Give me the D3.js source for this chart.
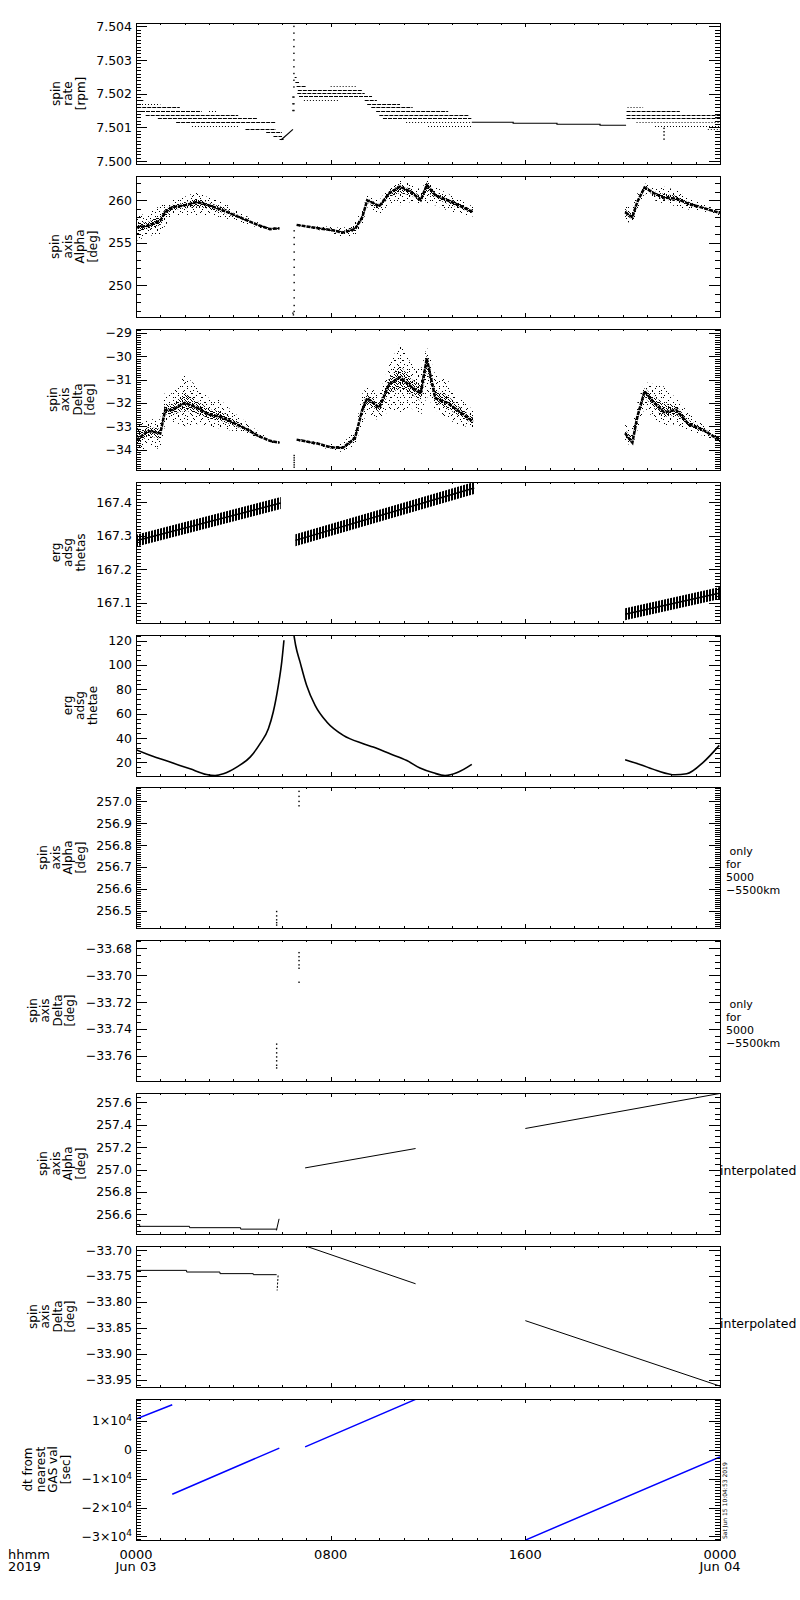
<!DOCTYPE html>
<html>
<head>
<meta charset="utf-8">
<script src="https://cdn.jsdelivr.net/npm/d3@7/dist/d3.min.js"></script>
<style>
  body { margin: 0; background: #fff; }
  svg text { font-family: "DejaVu Sans", sans-serif; fill: #000; }
  .axis line { stroke: #000; shape-rendering: crispEdges; }
  .pre { white-space: pre; }
</style>
</head>
<body>
<svg id="chart" width="800" height="1600"></svg>
<script>
// ---- time axis (hours from 2019-06-03 00:00) ----
const majorHours = [0, 8, 16, 24];
const majorHourLabels = [["0000", "Jun 03"], ["0800"], ["1600"], ["0000", "Jun 04"]];
const minorHours = d3.range(0, 25);

// ---- panel 1: spin rate [rpm], quantised rows of points ----
const rateTicks = [7.500, 7.501, 7.502, 7.503, 7.504];
const rateLevel = [7.50182, 7.50170, 7.50160, 7.50149, 7.50149, 7.50137, 7.50127, 7.50115, 7.50105, 7.50096, 7.50085, 7.50073, 7.50065,
  7.50251, 7.50236, 7.50223, 7.50223, 7.50211, 7.50202, 7.50192, 7.50182, 7.50182, 7.50170, 7.50160, 7.50149, 7.50137, 7.50127, 7.50115, 7.50105,
  7.50160, 7.50149, 7.50137, 7.50127, 7.50115, 7.50105, 7.50096];
const rateFrom = [0.0, 0.0, 0.05, 0.0, 3.0, 0.4, 0.9, 1.65, 2.3, 4.5, 5.35, 5.65, 5.9,
  6.52, 6.55, 6.6, 8.0, 6.65, 6.63, 6.7, 6.9, 9.4, 9.5, 9.67, 9.87, 10.0, 10.15, 11.1, 12.0,
  20.2, 20.16, 20.16, 20.16, 20.57, 21.33, 23.5];
const rateTo = [0.3, 1.0, 1.8, 2.7, 3.3, 4.2, 5.0, 5.75, 4.25, 5.75, 6.0, 6.0, 6.1,
  6.6, 6.7, 7.0, 9.1, 9.3, 9.4, 9.7, 8.3, 9.9, 10.85, 11.37, 12.83, 13.7, 13.78, 13.78, 13.78,
  20.84, 22.35, 24, 24, 24, 24, 24];
const rateDensity = ["dense", "sparse", "dense", "dense", "sparse", "dense", "dense", "dense", "sparse", "dense", "dense", "dense", "dense",
  "dense", "dense", "dense", "sparse", "dense", "dense", "dense", "sparse", "dense", "dense", "dense", "dense", "dense", "dense", "sparse", "sparse",
  "sparse", "dense", "dense", "dense", "sparse", "sparse", "sparse"];
const rateStepT = [13.8, 15.5, 17.3, 19.07, 20.14];
const rateStepV = [7.501151, 7.501122, 7.501092, 7.501062, 7.501062];
const rateRampT = [5.97, 6.45];
const rateRampV = [7.50063, 7.50094];
const rateSpikeT = [6.49, 6.49, 6.49, 6.49, 6.49, 6.49, 6.49, 6.49, 6.49, 6.49, 6.49, 6.49, 6.49, 6.45, 6.45, 6.45, 21.7, 21.7, 21.7, 21.7];
const rateSpikeV = [7.5040, 7.5038, 7.5036, 7.5034, 7.5032, 7.5030, 7.5028, 7.5026, 7.5024, 7.5022, 7.5019, 7.5017, 7.5015,
  7.5019, 7.5017, 7.5015, 7.50097, 7.50087, 7.50077, 7.50065];

// ---- panels 2 & 3: spin axis Alpha / Delta (scatter: core trace + envelope) ----
const alphaTicks = [250, 255, 260];
const cloudT = [0.0, 0.5, 1.0, 1.2, 1.5, 2.0, 2.5, 3.0, 3.5, 4.0, 4.5, 5.0, 5.5, 5.9, null,
  6.6, 7.5, 8.0, 8.5, 9.0, 9.3, 9.5, 10.0, 10.4, 10.85, 11.3, 11.7, 11.95, 12.3, 12.8, 13.2, 13.85, null,
  20.1, 20.4, 20.6, 20.9, 21.3, 21.7, 22.2, 22.7, 23.3, 24.0];
const alphaCore = [256.8, 257.0, 257.6, 258.6, 259.2, 259.4, 259.8, 259.4, 258.9, 258.3, 257.7, 257.1, 256.6, 256.7, null,
  257.1, 256.7, 256.5, 256.2, 256.6, 258.0, 260.0, 259.3, 260.8, 261.6, 261.0, 260.0, 261.8, 260.6, 260.0, 259.5, 258.6, null,
  258.6, 258.0, 259.8, 261.5, 260.8, 260.3, 260.2, 259.6, 259.1, 258.5];
const alphaLo = [255.2, 255.8, 256.0, 257.0, 258.2, 258.3, 258.2, 258.2, 258.0, 257.6, 257.2, 256.8, 256.5, 256.6, null,
  257.0, 256.5, 256.1, 255.6, 255.9, 257.0, 259.2, 258.2, 259.6, 259.4, 259.8, 259.4, 259.6, 259.4, 258.8, 258.5, 258.1, null,
  257.5, 257.3, 258.6, 260.8, 260.0, 259.6, 259.3, 258.9, 258.7, 258.2];
const alphaHi = [258.2, 258.4, 259.4, 259.6, 260.0, 260.4, 261.0, 260.3, 259.9, 259.0, 258.2, 257.4, 256.8, 256.8, null,
  257.2, 256.9, 256.9, 256.7, 257.5, 258.9, 260.6, 260.0, 261.6, 262.3, 262.0, 261.2, 262.4, 261.6, 260.8, 260.3, 259.2, null,
  259.4, 259.2, 260.8, 262.0, 261.5, 261.6, 261.2, 260.3, 259.5, 258.8];
const alphaSpikeT = [6.5, 6.5, 6.5, 6.5, 6.5, 6.5, 6.5, 6.5, 6.5, 6.5, 6.5, 6.5, 6.45, 6.47];
const alphaSpikeV = [256.4, 255.6, 254.8, 253.9, 253.0, 252.1, 251.2, 250.3, 249.4, 248.5, 247.6, 246.9, 246.7, 246.5];

const deltaTicks = [-34, -33, -32, -31, -30, -29];
const deltaCore = [-33.6, -33.2, -33.3, -32.3, -32.3, -32.0, -32.2, -32.5, -32.6, -32.85, -33.1, -33.4, -33.62, -33.7, null,
  -33.57, -33.75, -33.9, -33.92, -33.5, -32.3, -31.8, -32.2, -31.2, -30.9, -31.3, -31.6, -30.1, -31.8, -32.0, -32.3, -32.8, null,
  -33.3, -33.7, -32.6, -31.5, -32.0, -32.4, -32.3, -32.9, -33.15, -33.6];
const deltaLo = [-34.3, -33.8, -34.0, -32.9, -32.8, -33.0, -32.9, -33.0, -33.1, -33.2, -33.3, -33.5, -33.7, -33.75, null,
  -33.62, -33.82, -34.05, -34.1, -33.8, -32.9, -32.4, -32.8, -32.3, -32.4, -32.2, -32.6, -31.7, -32.3, -32.7, -32.9, -33.1, null,
  -33.7, -33.85, -33.2, -32.2, -32.7, -33.0, -32.9, -33.2, -33.4, -33.75];
const deltaHi = [-32.9, -32.7, -32.7, -31.5, -31.6, -30.8, -31.3, -31.8, -31.9, -32.4, -32.8, -33.2, -33.55, -33.65, null,
  -33.52, -33.68, -33.75, -33.7, -33.2, -31.6, -31.3, -31.6, -30.4, -29.4, -30.3, -30.6, -29.6, -30.8, -31.0, -31.7, -32.3, null,
  -32.9, -33.0, -32.0, -31.1, -31.2, -31.3, -31.8, -32.4, -32.9, -33.45];
const deltaSpikeT = [6.5, 6.5, 6.5, 6.5, 6.5, 6.5];
const deltaSpikeV = [-34.25, -34.35, -34.45, -34.55, -34.65, -34.75];

// ---- panel 4: erg adsg thetas ----
const thetasTicks = [167.1, 167.2, 167.3, 167.4];
const thetasT = [0, 5.95, null, 6.55, 13.9, null, 20.1, 24.0];
const thetasV = [167.285, 167.397, null, 167.286, 167.442, null, 167.066, 167.129];

// ---- panel 5: erg adsg thetae ----
const thetaeTicks = [20, 40, 60, 80, 100, 120];
const thetaeT = [0, 0.575, 1.4, 2.22, 2.9, 3.25, 3.59, 4.14, 4.69, 5.1, 5.44, 5.64, 5.85, 5.99, 6.08, null,
  6.49, 6.56, 6.74, 7.01, 7.36, 7.84, 8.52, 9.34, 9.75, 10.44, 11.13, 11.67, 12.22, 12.7, 13.18, 13.8, null,
  20.1, 20.71, 21.4, 22.15, 22.63, 23.32, 23.97];
const thetaeV = [30.5, 26.0, 20.3, 14.8, 10.1, 9.3, 10.7, 16.2, 24.4, 35.4, 47.7, 61.4, 83.3, 102.5, 120.2, null,
  124.4, 116.1, 102.5, 83.3, 66.8, 53.2, 42.2, 35.4, 32.6, 27.1, 21.6, 15.4, 11.5, 9.3, 11.5, 18.4, null,
  22.2, 18.4, 13.4, 9.9, 10.7, 20.3, 34.0];

// ---- panels 6 & 7: only for 5000-5500km ----
const onlyAlphaTicks = [256.5, 256.6, 256.7, 256.8, 256.9, 257.0];
const onlyAlphaT = [5.78, 5.78, 5.78, 5.78, 5.78, 6.7, 6.7, 6.7, 6.7];
const onlyAlphaV = [256.496, 256.476, 256.458, 256.445, 256.434, 257.046, 257.023, 257.0, 256.98];
const onlyDeltaTicks = [-33.76, -33.74, -33.72, -33.70, -33.68];
const onlyDeltaT = [5.78, 5.78, 5.78, 5.78, 5.78, 5.78, 5.78, 6.7, 6.7, 6.7, 6.7, 6.7, 6.7];
const onlyDeltaV = [-33.7513, -33.7545, -33.7578, -33.7608, -33.7637, -33.767, -33.769,
  -33.6833, -33.6863, -33.6892, -33.6924, -33.6949, -33.7053];

// ---- panels 8 & 9: interpolated ----
const intAlphaTicks = [256.6, 256.8, 257.0, 257.2, 257.4, 257.6];
const intAlphaStepT = [0, 0.15, 2.2, 4.3, 5.8];
const intAlphaStepV = [256.51, 256.493, 256.481, 256.468, 256.468];
const intAlphaT = [5.77, 5.88, null, 6.95, 11.49, null, 16, 24];
const intAlphaV = [256.456, 256.56, null, 257.015, 257.188, null, 257.367, 257.68];
const intDeltaTicks = [-33.95, -33.90, -33.85, -33.80, -33.75, -33.70];
const intDeltaStepT = [0, 2.08, 3.45, 4.82, 5.78];
const intDeltaStepV = [-33.7392, -33.7424, -33.7455, -33.7475, -33.7475];
const intDeltaJumpT = [5.84, 5.80];
const intDeltaJumpV = [-33.749, -33.778];
const intDeltaT = [6.95, 11.49, null, 16, 24];
const intDeltaV = [-33.692, -33.765, null, -33.836, -33.962];

// ---- panel 10: dt from nearest GAS val [sec] ----
const dtTicks = [-30000, -20000, -10000, 0, 10000];
const dtT = [0, 1.49, null, 1.49, 5.89, null, 6.95, 11.49, null, 16, 24];
const dtV = [10500, 15470, null, -15430, 480, null, 930, 17300, null, -31250, -2530];

// ---------------------------------------------------------------
const svg = d3.select("#chart");
const LEFT = 136, W = 584, H = 141;
const panelTop = i => Math.round(23.3 + 152.8 * i);
const x = d3.scaleLinear().domain([0, 24]).range([0, W]);

const defs = svg.append("defs");
function pattern(id, w, h, cells, cw) {
  const p = defs.append("pattern").attr("id", id).attr("patternUnits", "userSpaceOnUse")
    .attr("width", w).attr("height", h);
  cells.forEach(c => p.append("rect").attr("x", c[0]).attr("y", c[1])
    .attr("width", cw || 1).attr("height", c[2] || 1).attr("fill", "#000"));
}
pattern("speckA", 9, 7, [[1, 1], [6, 3], [3, 5]]);
pattern("speckB", 7, 11, [[2, 2], [5, 7], [0, 9]]);
pattern("speckC", 6, 5, [[0, 0], [3, 0], [1, 1], [4, 2], [2, 2], [0, 3], [5, 3], [2, 4], [4, 4]]);
pattern("hatch", 3, 4, [[0, 0, 4]], 2);

const pts = (ts, vs) => ts.map((t, i) => ({ t, v: vs[i] }));
const ok = d => d.t != null && d.v != null;

function plotLine(g, y, ts, vs, o = {}) {
  const line = d3.line().defined(ok).x(d => x(d.t)).y(d => y(d.v)).curve(o.curve || d3.curveLinear);
  g.append("path").attr("d", line(pts(ts, vs))).attr("fill", "none")
    .attr("stroke", o.color || "#000").attr("stroke-width", o.width || 1)
    .attr("stroke-dasharray", o.dash || null);
}
function plotDots(g, y, ts, vs) {
  g.append("g").selectAll("rect").data(pts(ts, vs)).join("rect")
    .attr("x", d => x(d.t) - 0.7).attr("y", d => y(d.v) - 0.7)
    .attr("width", 1.4).attr("height", 1.4).attr("fill", "#000");
}
function plotRows(g, y) {
  const rows = rateLevel.map((v, i) => ({ v, a: rateFrom[i], b: rateTo[i], k: rateDensity[i] }));
  g.append("g").selectAll("line").data(rows).join("line")
    .attr("x1", d => x(d.a)).attr("x2", d => x(d.b))
    .attr("y1", d => Math.round(y(d.v)) + 0.5).attr("y2", d => Math.round(y(d.v)) + 0.5)
    .attr("stroke", "#000").attr("stroke-width", 1)
    .attr("stroke-dasharray", d => d.k === "dense" ? "4,1" : "1,2");
}
function plotCloud(g, y, ts, core, lo, hi) {
  const d = ts.map((t, i) => ({ t, v: core[i], lo: lo[i], hi: hi[i] }));
  const outer = d3.area().defined(ok).x(p => x(p.t)).y0(p => y(p.lo)).y1(p => y(p.hi));
  const inner = d3.area().defined(ok).x(p => x(p.t))
    .y0(p => y((p.lo + 2 * p.v) / 3)).y1(p => y((p.hi + 2 * p.v) / 3));
  g.append("path").attr("d", outer(d)).attr("fill", "url(#speckA)");
  g.append("path").attr("d", outer(d)).attr("fill", "url(#speckB)");
  g.append("path").attr("d", inner(d)).attr("fill", "url(#speckC)");
  const line = d3.line().defined(ok).x(p => x(p.t)).y(p => y(p.v));
  g.append("path").attr("d", line(d)).attr("fill", "none").attr("stroke", "#000")
    .attr("stroke-width", 2.5).attr("stroke-dasharray", "4,1");
}
function plotBand(g, y, ts, vs) {
  const area = d3.area().defined(ok).x(d => x(d.t)).y0(d => y(d.v) + 6).y1(d => y(d.v) - 6);
  g.append("path").attr("d", area(pts(ts, vs))).attr("fill", "url(#hatch)");
  plotLine(g, y, ts, vs, { width: 1.5 });
}

function dtFormat(el, d) {
  const t = d3.select(el).text("");
  if (d === 0) { t.text("0"); return; }
  t.append("tspan").text((d < 0 ? "\u2212" : "") + Math.abs(d / 1e4) + "\u00d710");
  t.append("tspan").attr("dy", "-0.5em").attr("font-size", "0.72em").text("4");
}

const onlyLines = [" only", "for", "5000", "\u22125500km"];
const panels = [
  { title: ["spin", "rate", "[rpm]"], domain: [7.499911, 7.504101], major: rateTicks, minor: 0.0001, fmt: d3.format(".3f"),
    draw: (g, y) => {
      plotRows(g, y);
      plotLine(g, y, rateStepT, rateStepV, { curve: d3.curveStepAfter, width: 1.2 });
      plotLine(g, y, rateRampT, rateRampV, { width: 1.2 });
      plotDots(g, y, rateSpikeT, rateSpikeV);
    } },
  { title: ["spin", "axis", "Alpha", "[deg]"], domain: [246.246, 262.857], major: alphaTicks, minor: 1, fmt: d3.format("d"),
    draw: (g, y) => { plotCloud(g, y, cloudT, alphaCore, alphaLo, alphaHi); plotDots(g, y, alphaSpikeT, alphaSpikeV); } },
  { title: ["spin", "axis", "Delta", "[deg]"], domain: [-34.870, -28.837], major: deltaTicks, minor: 0.1, fmt: d3.format("d"),
    draw: (g, y) => { plotCloud(g, y, cloudT, deltaCore, deltaLo, deltaHi); plotDots(g, y, deltaSpikeT, deltaSpikeV); } },
  { title: ["erg", "adsg", "thetas"], domain: [167.040, 167.4597], major: thetasTicks, minor: 0.01, fmt: d3.format(".1f"),
    draw: (g, y) => plotBand(g, y, thetasT, thetasV) },
  { title: ["erg", "adsg", "thetae"], domain: [8.91, 124.52], major: thetaeTicks, minor: 4, fmt: d3.format("d"),
    draw: (g, y) => plotLine(g, y, thetaeT, thetaeV, { curve: d3.curveMonotoneX, width: 1.6 }) },
  { title: ["spin", "axis", "Alpha", "[deg]"], domain: [256.4206, 257.066], major: onlyAlphaTicks, minor: 0.01, fmt: d3.format(".1f"),
    right: { lines: onlyLines, dx: 6, dy: 68, gap: 13, size: 11 },
    draw: (g, y) => plotDots(g, y, onlyAlphaT, onlyAlphaV) },
  { title: ["spin", "axis", "Delta", "[deg]"], domain: [-33.7787, -33.6739], major: onlyDeltaTicks, minor: 0.005, fmt: d3.format(".2f"),
    right: { lines: onlyLines, dx: 6, dy: 68, gap: 13, size: 11 },
    draw: (g, y) => plotDots(g, y, onlyDeltaT, onlyDeltaV) },
  { title: ["spin", "axis", "Alpha", "[deg]"], domain: [256.4245, 257.684], major: intAlphaTicks, minor: 0.05, fmt: d3.format(".1f"),
    right: { lines: ["interpolated"], dx: 0, dy: 82, gap: 0, size: 12.5 },
    draw: (g, y) => {
      plotLine(g, y, intAlphaStepT, intAlphaStepV, { curve: d3.curveStepAfter });
      plotLine(g, y, intAlphaT, intAlphaV);
    } },
  { title: ["spin", "axis", "Delta", "[deg]"], domain: [-33.9637, -33.6923], major: intDeltaTicks, minor: 0.01, fmt: d3.format(".2f"),
    right: { lines: ["interpolated"], dx: 0, dy: 82, gap: 0, size: 12.5 },
    draw: (g, y) => {
      plotLine(g, y, intDeltaStepT, intDeltaStepV, { curve: d3.curveStepAfter });
      plotLine(g, y, intDeltaJumpT, intDeltaJumpV, { dash: "2,1.5" });
      plotLine(g, y, intDeltaT, intDeltaV);
    } },
  { title: ["dt from", "nearest", "GAS val", "[sec]"], domain: [-31210, 17433], major: dtTicks, minor: 1000, fmt: null,
    draw: (g, y) => plotLine(g, y, dtT, dtV, { color: "#0000ff", width: 1.5 }) }
];

function minorTicks(domain, step) {
  const lo = Math.min(...domain), hi = Math.max(...domain), out = [];
  for (let i = Math.ceil(lo / step - 1e-9); i * step <= hi + 1e-9; i++) out.push(i * step);
  return out;
}

panels.forEach((p, i) => {
  const top = panelTop(i);
  const g = svg.append("g").attr("transform", `translate(${LEFT},${top})`);
  const y = d3.scaleLinear().domain(p.domain).range([H, 0]);

  defs.append("clipPath").attr("id", "clip" + i).append("rect").attr("width", W).attr("height", H);
  const plot = g.append("g").attr("clip-path", `url(#clip${i})`);
  p.draw(plot, y);

  const add = (axis, tr) => g.append("g").attr("class", "axis").attr("transform", tr || null)
    .call(axis).call(a => a.select(".domain").remove());
  const minor = minorTicks(p.domain, p.minor);
  add(d3.axisLeft(y).tickValues(minor).tickSize(-5).tickFormat(""));
  add(d3.axisRight(y).tickValues(minor).tickSize(-5).tickFormat(""), `translate(${W},0)`);
  add(d3.axisRight(y).tickValues(p.major).tickSize(-11).tickFormat(""), `translate(${W},0)`);
  add(d3.axisBottom(x).tickValues(minorHours).tickSize(-2).tickFormat(""), `translate(0,${H})`);
  add(d3.axisBottom(x).tickValues(majorHours).tickSize(-4).tickFormat(""), `translate(0,${H})`);
  add(d3.axisTop(x).tickValues(minorHours).tickSize(-2).tickFormat(""));
  add(d3.axisTop(x).tickValues(majorHours).tickSize(-4).tickFormat(""));
  const labels = add(d3.axisLeft(y).tickValues(p.major).tickSize(-11).tickPadding(4)
    .tickFormat(p.fmt || (() => "")));
  labels.attr("font-size", 12.5);
  if (!p.fmt) labels.selectAll(".tick text").each(function (d) { dtFormat(this, d); });

  g.append("rect").attr("width", W).attr("height", H).attr("fill", "none")
    .attr("stroke", "#000").attr("stroke-width", 1).attr("shape-rendering", "crispEdges");

  // y title, stacked rotated lines left of the tick labels
  let maxW = 0;
  labels.selectAll(".tick text").each(function () { maxW = Math.max(maxW, this.getBBox().width); });
  const base = -(4 + maxW) - 11.5;
  p.title.forEach((s, k) => {
    const bx = base - (p.title.length - 1 - k) * 12.5;
    g.append("text").attr("transform", `translate(${bx},${H / 2}) rotate(-90)`)
      .attr("text-anchor", "middle").attr("font-size", 12).text(s);
  });

  if (p.right) {
    const r = p.right;
    r.lines.forEach((s, k) => {
      g.append("text").attr("class", "pre").attr("x", W + r.dx).attr("y", r.dy + k * r.gap)
        .attr("font-size", r.size).text(s);
    });
  }
});

// bottom time labels
const last = panelTop(panels.length - 1) + H;
majorHours.forEach((h, i) => {
  majorHourLabels[i].forEach((s, k) => {
    svg.append("text").attr("x", LEFT + x(h)).attr("y", last + 18.5 + k * 12.5)
      .attr("text-anchor", "middle").attr("font-size", 13).text(s);
  });
});
["hhmm", "2019"].forEach((s, k) => {
  svg.append("text").attr("x", 8).attr("y", last + 18.5 + k * 12.5).attr("font-size", 13).text(s);
});

// creation stamp
svg.append("text").attr("transform", `translate(727,${last - 1}) rotate(-90)`)
  .attr("font-size", 6).text("Sat Jun 15 10:04:53 2019");
</script>
</body>
</html>
